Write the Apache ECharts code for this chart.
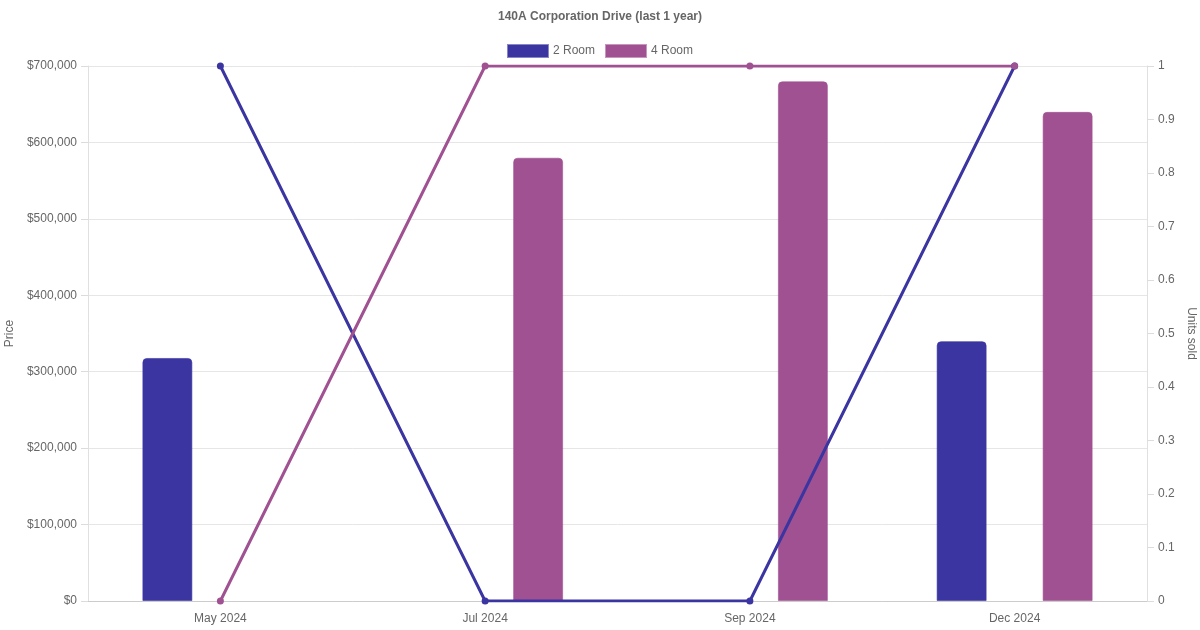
<!DOCTYPE html>
<html>
<head>
<meta charset="utf-8">
<script src="https://cdn.jsdelivr.net/npm/echarts@6/dist/echarts.min.js"></script>
<style>html,body{margin:0;padding:0;background:#fff}#c{width:1200px;height:630px}</style>
</head>
<body>
<div id="c"></div>
<script>
const titleText = '140A Corporation Drive (last 1 year)';
const categories = ['May 2024', 'Jul 2024', 'Sep 2024', 'Dec 2024'];
const seriesNames = ['2 Room', '4 Room'];
const price2Room = [318000, null, null, 340000];
const price4Room = [null, 580000, 680000, 640000];
const units2Room = [1, 0, 0, 1];
const units4Room = [0, 1, 1, 1];
const colors = ['#3a35a0', '#a05192'];

const chart = echarts.init(document.getElementById('c'), null, {renderer: 'canvas'});
const font = 'Liberation Sans, Helvetica, Arial, sans-serif';
const txt = '#666';

function barSeries(name, data, color) {
  return {
    name: name, type: 'bar', yAxisIndex: 0, data: data,
    barWidth: 50, barGap: '112%',
    itemStyle: {color: color, borderRadius: [4, 4, 0, 0], borderColor: echarts.color.modifyAlpha(color, 0.6), borderWidth: 1},
    z: 2
  };
}
function lineSeries(name, data, color) {
  return {
    name: name, type: 'line', yAxisIndex: 1, data: data,
    symbol: 'circle', symbolSize: 7, showSymbol: true,
    lineStyle: {color: color, width: 3},
    itemStyle: {color: color},
    z: 5
  };
}

chart.setOption({
  animation: false,
  textStyle: {fontFamily: font},
  title: {
    text: titleText, left: 'center', top: 6,
    textStyle: {fontSize: 12, fontWeight: 'bold', color: txt, fontFamily: font}
  },
  legend: {
    data: seriesNames.map(n => ({name: n, icon: 'rect'})),
    top: 39, left: 'center', itemWidth: 40, itemHeight: 12, itemGap: 10,
    textStyle: {fontSize: 12, color: txt, fontFamily: font}
  },
  grid: {left: 88, right: 53, top: 66, bottom: 29, containLabel: false, outerBoundsMode: 'none'},
  xAxis: {
    type: 'category', data: categories, boundaryGap: true,
    axisLine: {show: true, lineStyle: {color: '#ccc'}},
    axisTick: {show: false},
    axisLabel: {fontSize: 12, color: txt, margin: 12, fontFamily: font},
    splitLine: {show: false}
  },
  yAxis: [
    {
      type: 'value', min: 0, max: 700000, interval: 100000, position: 'left',
      name: 'Price', nameLocation: 'middle', nameGap: 67,
      nameTextStyle: {fontSize: 12, color: txt, fontFamily: font},
      axisLine: {show: true, lineStyle: {color: '#e0e0e0'}},
      axisTick: {show: true, length: 7, lineStyle: {color: '#dcdcdc'}},
      axisLabel: {fontSize: 12, color: txt, margin: 11, fontFamily: font,
        formatter: v => '$' + Number(v).toLocaleString('en-US')},
      splitLine: {show: true, lineStyle: {color: '#e6e6e6'}}
    },
    {
      type: 'value', min: 0, max: 1, interval: 0.1, position: 'right',
      name: 'Units sold', nameLocation: 'middle', nameGap: 32, nameRotate: -90,
      nameTextStyle: {fontSize: 12, color: txt, fontFamily: font},
      axisLine: {show: true, lineStyle: {color: '#e0e0e0'}},
      axisTick: {show: true, length: 7, lineStyle: {color: '#dcdcdc'}},
      axisLabel: {fontSize: 12, color: txt, margin: 11, fontFamily: font,
        formatter: v => String(parseFloat(Number(v).toFixed(1)))},
      splitLine: {show: false}
    }
  ],
  series: [
    barSeries(seriesNames[0], price2Room, colors[0]),
    barSeries(seriesNames[1], price4Room, colors[1]),
    lineSeries(seriesNames[0], units2Room, colors[0]),
    lineSeries(seriesNames[1], units4Room, colors[1])
  ]
});
</script>
</body>
</html>
